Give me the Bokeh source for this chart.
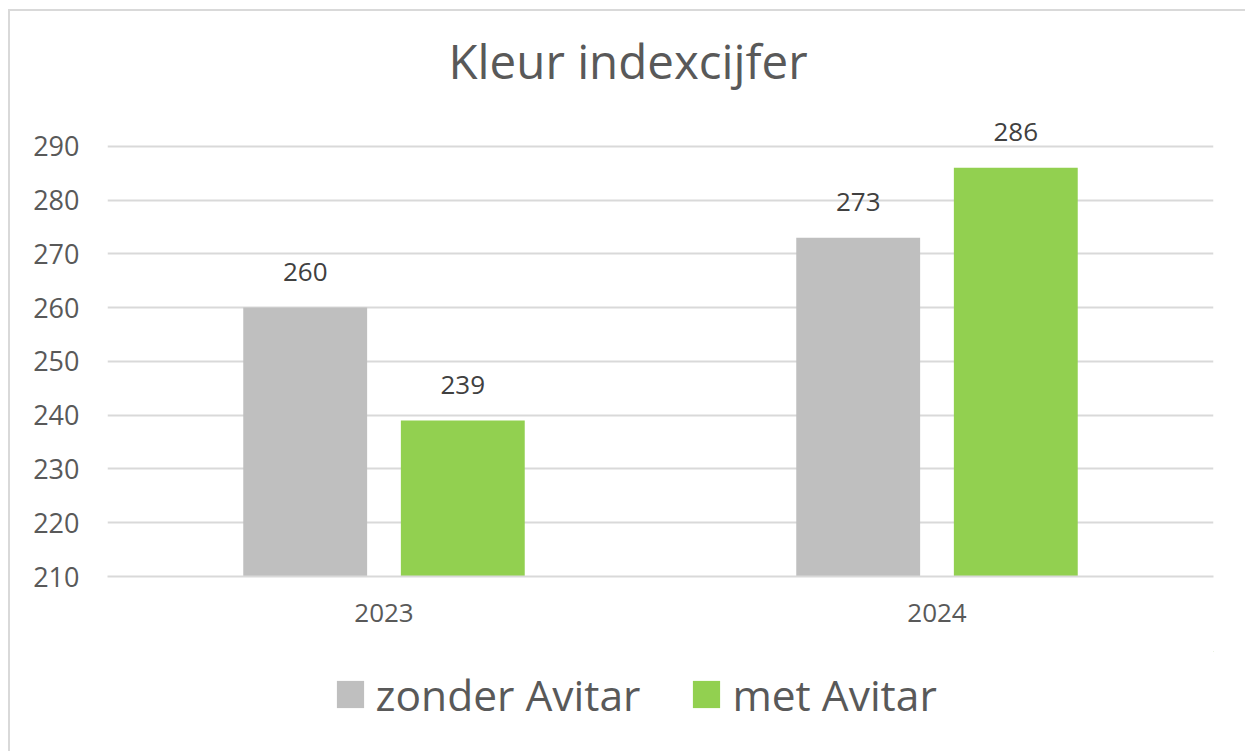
from bokeh.plotting import figure
from bokeh.layouts import column
from bokeh.models import (ColumnDataSource, FactorRange, FixedTicker, Legend, LegendItem,
                          Title, Range1d)
from bokeh.transform import dodge
from bokeh.core.properties import value
from bokeh.embed import file_html
from bokeh.resources import INLINE

years = ["2023", "2024"]
series_names = ["zonder Avitar", "met Avitar"]
zonder = [260, 273]
met = [239, 286]
y_ticks = [210, 220, 230, 240, 250, 260, 270, 280, 290]
title_text = "Kleur indexcijfer"

GRAY = "#bfbfbf"
GREEN = "#92d050"
FONT = "Open Sans"

src = ColumnDataSource(data=dict(
    year=years, zonder=zonder, met=met,
    zonder_lbl=[str(v) for v in zonder], met_lbl=[str(v) for v in met],
))

p = figure(width=1235, height=640, output_backend="svg", toolbar_location=None,
           x_range=FactorRange(*years, range_padding=0), y_range=(210, 300),
           min_border_left=97, min_border_right=32, min_border_top=81,
           min_border_bottom=75)
p.background_fill_color = "white"
p.border_fill_color = "white"
p.outline_line_color = None

t = Title(text=title_text, align="left", offset=341, text_font=FONT,
          text_font_size="47.5px", text_font_style="normal", text_color="#595959",
          standoff=0)
p.add_layout(t, "above")

bw = 0.224
off = 0.1425
r1 = p.vbar(x=dodge("year", -off, range=p.x_range), top="zonder", bottom=200, width=bw,
            source=src, fill_color=GRAY, line_color=None)
r2 = p.vbar(x=dodge("year", off, range=p.x_range), top="met", bottom=200, width=bw,
            source=src, fill_color=GREEN, line_color=None)

for col, lbl in (("zonder", "zonder_lbl"), ("met", "met_lbl")):
    o = -off if col == "zonder" else off
    p.text(x=dodge("year", o, range=p.x_range), y=col, text=lbl, source=src,
           text_align="center", text_baseline="alphabetic", y_offset=-36,
           text_font=value(FONT), text_font_size="26px", text_color="#404040")

p.yaxis.ticker = FixedTicker(ticks=y_ticks)
p.yaxis.axis_line_color = None
p.yaxis.major_tick_line_color = None
p.yaxis.minor_tick_line_color = None
p.yaxis.major_label_text_font = FONT
p.yaxis.major_label_text_font_size = "27px"
p.yaxis.major_label_text_color = "#595959"
p.yaxis.major_label_standoff = 22

p.xaxis.axis_line_color = "#d9d9d9"
p.xaxis.axis_line_width = 2
p.xaxis.major_tick_line_color = None
p.xaxis.minor_tick_line_color = None
p.xaxis.major_label_text_font = FONT
p.xaxis.major_label_text_font_size = "26px"
p.xaxis.major_label_text_color = "#595959"
p.xaxis.major_label_standoff = 21

p.xgrid.grid_line_color = None
p.ygrid.grid_line_color = "#d9d9d9"
p.ygrid.grid_line_width = 2

# legend strip below the chart (its bars lie fully outside its visible area)
lg = figure(width=1235, height=100, output_backend="svg", toolbar_location=None,
            x_range=FactorRange(*years), y_range=Range1d(0, 1),
            min_border_left=0, min_border_right=0, min_border_top=0, min_border_bottom=0)
lg.axis.visible = False
lg.grid.visible = False
lg.outline_line_color = None
lg.background_fill_color = "white"
lg.border_fill_color = "white"
l1 = lg.vbar(x=dodge("year", 50, range=lg.x_range), top="zonder", bottom=200, width=0.1,
             source=src, fill_color=GRAY, line_color=None)
l2 = lg.vbar(x=dodge("year", 50, range=lg.x_range), top="met", bottom=200, width=0.1,
             source=src, fill_color=GREEN, line_color=None)

legend = Legend(items=[LegendItem(label=series_names[0], renderers=[l1]),
                       LegendItem(label=series_names[1], renderers=[l2])],
                orientation="horizontal", location=(225.6, 28.5),
                glyph_width=34, glyph_height=34, label_standoff=9, spacing=49,
                padding=0, margin=0, border_line_color=None, background_fill_alpha=0,
                label_text_font=FONT, label_text_font_size="42.5px",
                label_text_color="#595959")
lg.add_layout(legend, "center")

layout = column(p, lg, spacing=0)
layout.styles = {"margin-left": "8px", "margin-top": "9px",
                 "border-left": "2px solid #d9d9d9", "border-top": "2px solid #d9d9d9"}

open("out.html", "w").write(file_html(layout, INLINE))
